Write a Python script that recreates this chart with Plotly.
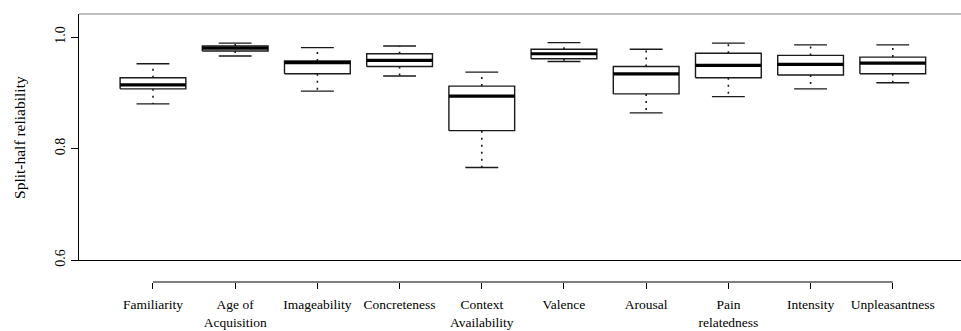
import plotly.graph_objects as go

# Split-half reliability per rating dimension (box-plot summary statistics)
categories = ["Familiarity", "Age of<br>Acquisition", "Imageability", "Concreteness",
              "Context<br>Availability", "Valence", "Arousal", "Pain<br>relatedness",
              "Intensity", "Unpleasantness"]
whisker_low = [0.880, 0.966, 0.903, 0.930, 0.766, 0.956, 0.864, 0.893, 0.907, 0.918]
q1 = [0.907, 0.975, 0.934, 0.947, 0.832, 0.961, 0.898, 0.927, 0.932, 0.934]
median = [0.914, 0.980, 0.954, 0.958, 0.894, 0.970, 0.934, 0.949, 0.951, 0.953]
q3 = [0.927, 0.984, 0.957, 0.970, 0.912, 0.978, 0.947, 0.971, 0.967, 0.964]
whisker_high = [0.952, 0.989, 0.981, 0.984, 0.937, 0.990, 0.978, 0.989, 0.986, 0.986]

y_ticks = [0.6, 0.8, 1.0]
y_ticktext = ["0.6", "0.8", "1.0"]

positions = list(range(1, len(categories) + 1))
HALF_BOX = 0.4
HALF_CAP = 0.2

FONT = "Liberation Serif"
INK = "#1a1a1a"

box_x, box_y = [], []
med_x, med_y = [], []
wh_x, wh_y = [], []
cap_x, cap_y = [], []
for p, lo, a, m, b, hi in zip(positions, whisker_low, q1, median, q3, whisker_high):
    box_x += [p - HALF_BOX, p + HALF_BOX, p + HALF_BOX, p - HALF_BOX, p - HALF_BOX, None]
    box_y += [a, a, b, b, a, None]
    med_x += [p - HALF_BOX, p + HALF_BOX, None]
    med_y += [m, m, None]
    wh_x += [p, p, None, p, p, None]
    wh_y += [b, hi, None, a, lo, None]
    cap_x += [p - HALF_CAP, p + HALF_CAP, None, p - HALF_CAP, p + HALF_CAP, None]
    cap_y += [hi, hi, None, lo, lo, None]

fig = go.Figure()
fig.add_trace(go.Scatter(x=wh_x, y=wh_y, mode="lines",
                         line=dict(color=INK, width=1.6, dash="2px,5px"), hoverinfo="skip"))
fig.add_trace(go.Scatter(x=cap_x, y=cap_y, mode="lines",
                         line=dict(color=INK, width=1.4), hoverinfo="skip"))
fig.add_trace(go.Scatter(x=box_x, y=box_y, mode="lines", fill="toself", fillcolor="white",
                         line=dict(color=INK, width=1.4), hoverinfo="skip"))
fig.add_trace(go.Scatter(x=med_x, y=med_y, mode="lines",
                         line=dict(color="black", width=3.2), hoverinfo="skip"))
# carrier for the detached category axis
fig.add_trace(go.Scatter(x=positions, y=median, xaxis="x2", mode="markers",
                         marker=dict(opacity=0), hoverinfo="skip"))

x_range = [0.1, 10.83]

fig.update_layout(
    width=961, height=331,
    margin=dict(l=79, r=0, t=14, b=49),
    paper_bgcolor="white", plot_bgcolor="white",
    showlegend=False,
    font=dict(family=FONT, color="black"),
    xaxis=dict(range=x_range, showgrid=False, zeroline=False, showticklabels=False,
               ticks="", showline=True, linecolor="black", linewidth=1, anchor="y"),
    xaxis2=dict(range=x_range, overlaying="x", anchor="free", position=0,
                tickmode="array", tickvals=positions, ticktext=categories,
                ticks="outside", ticklen=6, tickwidth=1, tickcolor="black",
                ticklabelstandoff=4,
                showline=False, showgrid=False, zeroline=False,
                tickfont=dict(family=FONT, size=13.5, color="black")),
    yaxis=dict(domain=[0.0821, 1], range=[0.6, 1.0413], tickmode="array",
               tickvals=y_ticks, ticktext=y_ticktext, tickangle=-90,
               ticks="outside", ticklen=7, tickwidth=1, tickcolor="black",
               showline=True, linecolor="black", linewidth=1,
               showgrid=False, zeroline=False,
               tickfont=dict(family=FONT, size=14, color="black")),
    shapes=[
        # top edge of the plotting frame
        dict(type="line", xref="paper", yref="paper", x0=0, x1=1, y0=1, y1=1,
             line=dict(color="#808080", width=1)),
        # category axis line spanning first to last tick
        dict(type="line", xref="x", yref="paper", x0=positions[0], x1=positions[-1],
             y0=0, y1=0, line=dict(color="black", width=1)),
    ],
    annotations=[
        dict(text="Split-half reliability", xref="paper", yref="paper",
             x=-0.0669, y=(1 + 0.0821) / 2, xanchor="center", yanchor="middle",
             textangle=-90, showarrow=False,
             font=dict(family=FONT, size=15.5, color="black")),
    ],
)

fig.write_html("out.html")
